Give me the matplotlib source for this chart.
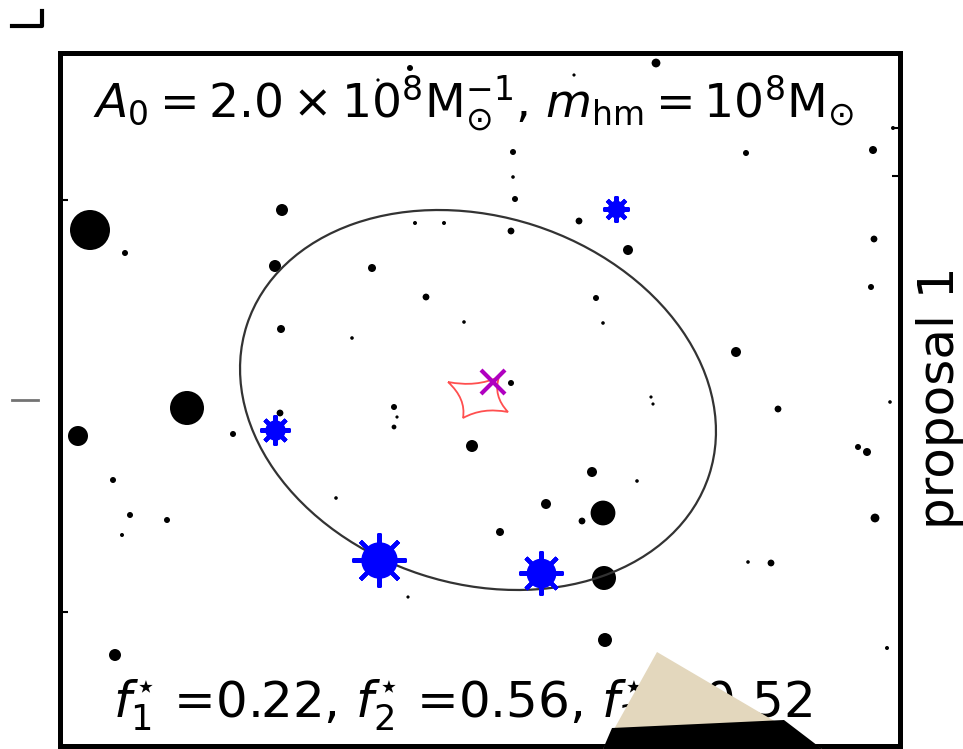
import matplotlib
matplotlib.use("Agg")
import matplotlib.pyplot as plt
from matplotlib.patches import Circle, Ellipse, Polygon, PathPatch
from matplotlib.path import Path
from matplotlib.lines import Line2D

# subhalo positions on the lens plane (arcsec) and their drawn radii
sub_x = [-1.95, -1.465, -2.01, 0.615, 0.62, -0.99, -1.025, -0.995, -0.54, -0.27,
         -1.775, -0.325, -0.18, -0.64, 0.175, 0.495, 0.74, 0.155, 0.58, -0.08,
         0.615, 0.155, -0.43, -0.415, -0.43, -1.0, -1.235, -0.04, 0.56, 0.785,
         0.33, 0.51, 0.10, -0.72, 0.855, 0.865, -0.36, 1.97, 1.955, 1.28,
         1.49, 2.05, 1.89, 1.935, 1.975, 1.34, 1.455, -1.835, -1.75, -1.565,
         -1.79, -0.35, 0.88, 0.47, 0.165, 0.165, 1.33, 1.965, -0.51, -1.825,
         0.625, 2.035, 2.065]
sub_y = [0.85, -0.04, -0.18, -0.565, -0.89, 0.95, 0.67, 0.355, 0.66, 0.515,
         0.735, 0.885, 0.885, 0.31, 1.005, 0.895, 0.75, 0.845, 0.51, 0.39,
         0.385, 0.085, -0.035, -0.085, -0.135, -0.065, -0.17, -0.23, -0.36, -0.405,
         -0.52, -0.605, -0.66, -0.49, 0.015, -0.02, -0.985, 0.805, 0.565, 0.24,
         -0.045, -0.01, -0.235, -0.26, -0.59, -0.81, -0.815, -0.40, -0.575, -0.60,
         -0.675, 1.66, 1.685, 1.625, 1.24, 1.115, 1.235, 1.25, 1.60, -1.275,
         -1.20, -1.24, 1.36]
sub_r = [0.100, 0.085, 0.05, 0.062, 0.06, 0.03, 0.03, 0.02, 0.02, 0.017,
         0.015, 0.01, 0.01, 0.009, 0.015, 0.017, 0.025, 0.017, 0.015, 0.009,
         0.009, 0.015, 0.015, 0.008, 0.012, 0.017, 0.015, 0.03, 0.025, 0.009,
         0.025, 0.017, 0.02, 0.009, 0.008, 0.008, 0.008, 0.017, 0.015, 0.025,
         0.017, 0.009, 0.015, 0.02, 0.022, 0.009, 0.017, 0.015, 0.015, 0.015,
         0.01, 0.015, 0.022, 0.008, 0.015, 0.009, 0.015, 0.02, 0.008, 0.03,
         0.035, 0.01, 0.01]

# lensed images of the source
img_x = [0.68, -1.025, -0.505, 0.305]
img_y = [0.955, -0.15, -0.80, -0.865]
img_r = [0.065, 0.075, 0.135, 0.11]

# source position
src_x = [0.065]
src_y = [0.09]

# caustic cusps
cusp_x = [-0.16, 0.095, 0.14, -0.085]
cusp_y = [0.09, 0.115, -0.06, -0.09]

# critical curve
crit_center = (-0.01, 0.0)
crit_width, crit_height, crit_angle = 2.43, 1.835, -18

f_star = [0.22, 0.56, 0.52]

W, H, DPI = 963, 749, 100
fig = plt.figure(figsize=(W / DPI, H / DPI), dpi=DPI)
ax = fig.add_axes([60 / W, 3 / H, 840 / W, 693 / H])
ax.set_xlim(-2.1, 2.1)
ax.set_ylim(-1.73, 1.735)
ax.set_aspect("equal")
pts_per_unit = 200 * 72 / DPI

for x, y, r in zip(sub_x, sub_y, sub_r):
    ax.add_patch(Circle((x, y), r, color="k", lw=0, zorder=2))

ax.add_patch(Ellipse(crit_center, crit_width, crit_height, angle=crit_angle,
                     fill=False, ec="0.2", lw=1.6, zorder=3))

# caustic: concave edges between neighbouring cusps
cx = sum(cusp_x) / 4
cy = sum(cusp_y) / 4
verts, codes = [], []
for i in range(4):
    x0, y0 = cusp_x[i], cusp_y[i]
    x1, y1 = cusp_x[(i + 1) % 4], cusp_y[(i + 1) % 4]
    mx, my = (x0 + x1) / 2, (y0 + y1) / 2
    qx, qy = mx + 0.45 * (cx - mx), my + 0.45 * (cy - my)
    if i == 0:
        verts.append((x0, y0))
        codes.append(Path.MOVETO)
    verts += [(qx, qy), (x1, y1)]
    codes += [Path.CURVE3, Path.CURVE3]
ax.add_patch(PathPatch(Path(verts, codes), fill=False, ec="#ff3030", lw=1.3,
                       alpha=0.85, zorder=4))

for x, y, r in zip(img_x, img_y, img_r):
    ax.plot(x, y, marker=(8, 2, 0), ms=2 * r * pts_per_unit, mec="blue",
            mew=3, zorder=5)
    ax.plot(x, y, "o", ms=1.35 * r * pts_per_unit, color="blue", mew=0, zorder=5)

ax.plot(src_x, src_y, "x", color="#b000c0", ms=17, mew=3, zorder=6)

ax.text(0.492, 0.928,
        r"$A_0 = 2.0\times10^8{\rm M}_{\odot}^{-1}$, $m_{\rm hm} = 10^8{\rm M}_{\odot}$",
        transform=ax.transAxes, ha="center", va="center", fontsize=34, zorder=7)
ax.text(0.479, 0.059,
        r"$f_1^{\star}$ =%.2f, $f_2^{\star}$ =%.2f, $f_3^{\star}$ =%.2f" % tuple(f_star),
        transform=ax.transAxes, ha="center", va="center", fontsize=36, zorder=7)
ax.text(1.048, 0.502, "proposal 1", transform=ax.transAxes, rotation=90,
        ha="center", va="center", fontsize=36)

ax.set_xticks([])
ax.set_yticks([1.0, -1.06])
ax.set_yticklabels([])
ax.tick_params(direction="in", length=6, width=1.5)
sec = ax.secondary_yaxis("right")
sec.set_yticks([1.36, 1.12])
sec.set_yticklabels([])
sec.tick_params(direction="in", length=6, width=1.5)
for s in list(ax.spines.values()) + list(sec.spines.values()):
    s.set_linewidth(3.6)

# pieces of the neighbouring panels and the folded corner
def fxy(px, py):
    return px / W, 1 - py / H

fig.add_artist(Line2D(*zip(fxy(12, 26), fxy(42, 26), fxy(42, 11)), color="k",
                      lw=3, transform=fig.transFigure))
fig.add_artist(Line2D(*zip(fxy(12, 400), fxy(38, 400)), color="0.45", lw=2,
                      transform=fig.transFigure))
fig.add_artist(Polygon([fxy(657, 652), fxy(603, 749), fxy(822, 749)],
                       closed=True, fc="#e3d7bd", ec="none",
                       transform=fig.transFigure, zorder=10))
fig.add_artist(Polygon([fxy(612, 728), fxy(784, 720), fxy(822, 749), fxy(603, 749)],
                       closed=True, fc="k", ec="none",
                       transform=fig.transFigure, zorder=11))

fig.savefig("out.png", dpi=DPI)
